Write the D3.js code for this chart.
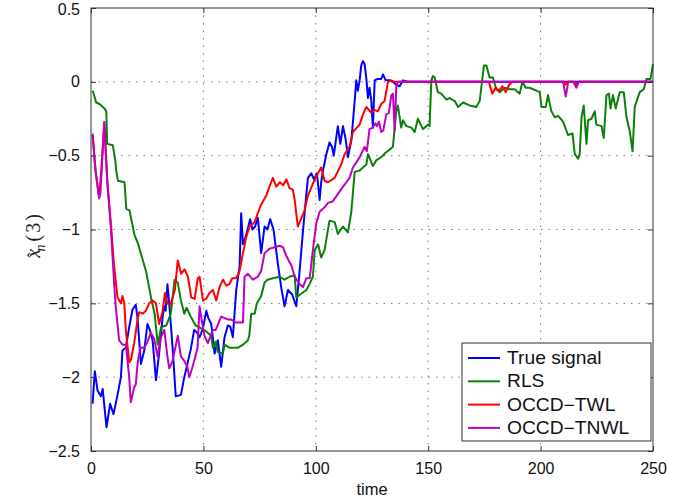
<!DOCTYPE html>
<html>
<head>
<meta charset="utf-8">
<script src="https://cdn.jsdelivr.net/npm/d3@7"></script>
<style>
  body { margin: 0; background: #fff; }
  #canvas { width: 684px; height: 503px; }
  text { font-family: "Liberation Sans", Arial, sans-serif; fill: #111; }
  .grid { stroke: #777; stroke-width: 1; stroke-dasharray: 1.5,6; }
  .frame { fill: none; stroke: #333; stroke-width: 1; }
  .series { fill: none; stroke-width: 2; stroke-linejoin: round; }
</style>
</head>
<body>
<div id="canvas" class="canvas"></div>
<script>
//tick labels
var xTicks = [0, 50, 100, 150, 200, 250];
var yTicks = [0.5, 0, -0.5, -1, -1.5, -2, -2.5];

//series names (legend order)
var seriesNames = ['True signal', 'RLS', 'OCCD\u2212TWL', 'OCCD\u2212TNWL'];

//True signal
var trueT = [0.7,1.7,2.9,4.4,5.2,6.9,8.5,10,11.8,13.3,14,15.5,17,18.5,19.9,20.7,22.2,23.7,25.1,26.2,27.4,28.9,30.3,31.8,32.6,33.2,34,34.8,36.3,37.7,40,41.5,42.9,44.4,45.9,47.2,48.3,49.8,51.3,52.2,53.5,55,56.4,57.9,59.4,60.9,62,63.1,64.6,66.1,66.8,67.6,68.8,70.8,71.8,73,74.2,75.7,77.2,78.5,79.7,81.2,83.1,84.6,86.1,87.6,89.5,91.3,92.8,94.3,95.8,96.5,98,99.2,100.5,101.7,102.4,103.2,104.7,106.1,107.2,108,109.8,110.9,112.1,113.3,114.3,115.8,117.3,118,118.7,119.5,120.2,121,121.7,122.5,123.2,123.9,124.7,125.4,126.2,127.5,129.1,129.9,131.1,133,134.3,135.8,137.3,138.8,141,250];
var trueV = [-2.18,-1.96,-2.09,-2.13,-2.08,-2.34,-2.18,-2.25,-2.12,-2.0,-1.82,-1.8,-1.66,-1.54,-1.51,-1.6,-1.91,-1.82,-1.64,-1.68,-1.75,-2.02,-1.84,-1.6,-1.52,-1.55,-1.37,-1.5,-1.8,-2.13,-2.12,-2.0,-1.91,-1.81,-1.68,-1.7,-1.73,-1.67,-1.55,-1.6,-1.64,-1.84,-1.75,-1.93,-1.73,-1.65,-1.66,-1.73,-1.41,-1.25,-0.89,-1.1,-1.05,-0.93,-1.0,-0.98,-0.92,-1.16,-0.98,-1.0,-0.93,-1.0,-1.23,-1.39,-1.52,-1.41,-1.44,-1.52,-1.28,-1.01,-0.76,-0.65,-0.62,-0.66,-0.62,-0.8,-0.68,-0.6,-0.49,-0.41,-0.44,-0.5,-0.3,-0.42,-0.3,-0.39,-0.51,-0.4,-0.13,0.01,-0.06,0.01,0.11,0.14,0.12,0.02,-0.11,-0.04,-0.13,-0.31,0.01,0.02,0.02,0.05,0.01,0.01,0,-0.02,-0.03,0.01,0,0];

//RLS
var rlsT = [0.8,2.3,3.8,6,6.8,7.2,9.7,10.8,11.2,12,14.9,15.7,17.1,19.4,20.8,22.5,24.6,26.8,28.3,29.7,31.2,33.5,35.5,37.2,38.6,40,41.5,42.5,44.4,46.5,49,51.3,53.5,54.2,55.5,56.4,58.7,59.4,61.5,63.9,65.5,67.6,69.8,70.4,71.3,72.8,73.8,75.7,77.2,78.5,80.9,83.9,86.1,88.3,90.6,91.3,93,95.8,97.2,98.7,99.5,101,102.4,103.9,106.1,108.4,109.8,112.1,114.3,115.8,117.3,119.5,122.5,123.2,125.4,127,129.1,131,132.8,134.3,135.1,135.8,136.5,138,138.8,140.3,142.5,144,145.4,147.7,149.9,150.6,151.4,152.1,152.9,154.3,155.8,158.1,159.5,161.8,163.3,165.5,168.4,171.4,172.9,174.8,175.9,177.3,178.8,180.3,181.8,184,186.2,188.5,190.7,191.9,193.4,195.1,198.1,199.6,200.4,202.3,203.3,204.8,206.3,207.8,210,212.2,214.2,215.2,216.7,217.4,218.2,219.2,220.4,221.1,222.6,224.1,224.8,227.1,228.1,229.3,230.4,231.1,232.2,233.4,235.2,237,238.2,239.6,240.9,241.9,244.1,245.9,247.1,248.9,250];
var rlsV = [-0.06,-0.14,-0.15,-0.18,-0.2,-0.42,-0.43,-0.53,-0.6,-0.67,-0.68,-0.86,-0.87,-1.04,-1.09,-1.18,-1.29,-1.47,-1.57,-1.78,-1.66,-1.65,-1.57,-1.34,-1.36,-1.48,-1.57,-1.53,-1.59,-1.65,-1.67,-1.69,-1.72,-1.8,-1.76,-1.83,-1.84,-1.78,-1.8,-1.8,-1.8,-1.78,-1.75,-1.72,-1.57,-1.57,-1.5,-1.45,-1.36,-1.34,-1.33,-1.32,-1.34,-1.32,-1.31,-1.46,-1.44,-1.41,-1.37,-1.32,-1.14,-1.1,-1.19,-1.14,-0.94,-0.95,-1.03,-0.98,-1.02,-0.88,-0.61,-0.6,-0.56,-0.49,-0.57,-0.53,-0.51,-0.48,-0.46,-0.44,-0.31,-0.2,-0.16,-0.31,-0.26,-0.3,-0.31,-0.34,-0.25,-0.32,-0.29,-0.3,0.01,0.04,0.03,-0.07,-0.08,-0.12,-0.11,-0.13,-0.17,-0.14,-0.16,-0.17,-0.13,0.11,0.11,0.03,0.03,-0.05,-0.07,-0.04,-0.05,-0.05,-0.08,0,-0.04,-0.04,-0.06,-0.07,-0.17,-0.17,-0.09,-0.2,-0.24,-0.23,-0.27,-0.36,-0.35,-0.49,-0.52,-0.49,-0.24,-0.16,-0.42,-0.26,-0.25,-0.2,-0.29,-0.3,-0.38,-0.09,-0.08,-0.18,-0.09,-0.18,-0.07,-0.07,-0.24,-0.33,-0.47,-0.17,-0.07,-0.05,0.02,0.02,0.12];

//OCCD-TWL
var twlT = [0.7,2,3.6,4.5,5.9,7.3,8.8,10.3,11.8,13.3,14,14.8,15.5,17,17.8,19.2,20.7,21.4,23,24.4,25.9,27.4,28.9,30.3,31.8,32.9,34,35.3,37.3,38.6,40.1,41.6,43.1,44.6,46.1,47.5,48.3,49.8,51.2,52.7,54.2,55.7,57.2,58.7,60.2,61.6,62.8,64.6,66.1,67.6,69.1,70.5,72.8,74.2,75.7,78,79.4,80.9,82.4,84,85.5,86.9,88.3,89.8,90.6,92,95,96.5,98.7,100.9,102.4,103.9,105.4,108.4,111.3,112.8,115,116.5,119.5,121,122.5,124.7,126,127.6,129.1,130.6,132.1,133.6,135,177,178.5,180,181.5,183,184.5,186,187.5,210.5,211,212,215,216,217,250];
var twlV = [-0.36,-0.6,-0.78,-0.62,-0.28,-0.68,-0.95,-1.25,-1.46,-1.5,-1.45,-1.5,-1.68,-1.9,-1.88,-1.77,-1.61,-1.56,-1.57,-1.55,-1.5,-1.48,-1.5,-1.64,-1.56,-1.43,-1.5,-1.51,-1.41,-1.21,-1.3,-1.27,-1.32,-1.46,-1.47,-1.33,-1.32,-1.48,-1.47,-1.43,-1.41,-1.48,-1.39,-1.34,-1.38,-1.37,-1.33,-1.33,-1.28,-1.16,-1.05,-0.98,-0.95,-0.89,-0.83,-0.77,-0.71,-0.65,-0.71,-0.68,-0.7,-0.66,-0.72,-0.73,-0.8,-0.98,-0.87,-0.77,-0.69,-0.62,-0.58,-0.67,-0.68,-0.65,-0.56,-0.49,-0.44,-0.34,-0.29,-0.22,-0.17,-0.21,-0.19,-0.2,-0.15,-0.13,0,0.01,0,0,-0.08,-0.04,-0.06,-0.03,-0.07,-0.02,0,0,-0.02,0,0,-0.02,0,0];

//OCCD-TNWL
var tnwlT = [0.7,2,3.6,4.2,5.9,7.3,8.8,10.3,11,12.5,14,15.5,17,17.7,19.2,19.9,20.7,21.9,23.7,25.1,26.6,28.1,29.6,31.1,32.6,34,34.8,36.3,38.6,40,41.5,42.9,43.7,44.8,45.9,47.4,48.3,49.3,50.5,52,54.2,55.5,57.9,59.5,60.9,62.4,64.6,67.6,68.3,69.8,72,74.2,75.7,77.2,79.4,81.7,83.9,85.4,86.9,88.3,89.1,90.6,92.8,94.3,95.8,97.3,98.7,100.2,101.7,103.9,105.4,107.5,109.8,112.1,113.6,115,116.5,118.7,119.5,121.7,122.7,123.9,125.4,126.5,127.2,128.1,129.1,130,131.4,132.5,133.6,134.3,135.1,135.8,136.5,210,211.2,212.3,214.5,215.9,217,250];
var tnwlV = [-0.35,-0.6,-0.79,-0.75,-0.27,-0.69,-0.98,-1.37,-1.52,-1.75,-1.78,-1.78,-2.0,-2.17,-2.07,-2.05,-1.91,-1.8,-1.8,-1.76,-1.7,-1.74,-1.86,-1.73,-1.68,-1.86,-1.94,-1.89,-1.72,-1.86,-1.89,-1.93,-2.0,-1.95,-1.89,-1.8,-1.52,-1.62,-1.72,-1.77,-1.68,-1.68,-1.59,-1.6,-1.61,-1.61,-1.63,-1.63,-1.32,-1.3,-1.34,-1.32,-1.28,-1.16,-1.13,-1.12,-1.11,-1.12,-1.18,-1.22,-1.24,-1.32,-1.37,-1.39,-1.33,-1.33,-1.14,-0.96,-0.88,-0.85,-0.82,-0.81,-0.76,-0.71,-0.68,-0.65,-0.58,-0.53,-0.51,-0.44,-0.47,-0.32,-0.31,-0.28,-0.3,-0.27,-0.34,-0.33,-0.22,-0.21,-0.09,-0.08,-0.33,-0.03,0,0,-0.1,0,0,-0.04,0,0];

var colors = ['#0000ff', '#0a800a', '#ff0000', '#bf00bf'];

var margin = {t:8, r:31, b:52, l:91},
    width = 684 - margin.l - margin.r,
    height = 503 - margin.t - margin.b;

var svg = d3.select('.canvas')
    .append('svg')
    .attr('width', 684)
    .attr('height', 503);

var canvas = svg.append('g')
    .attr('transform', 'translate(' + margin.l + ',' + margin.t + ')');

var x = d3.scaleLinear().domain([0, 250]).range([0, width]);
var y = d3.scaleLinear().domain([-2.5, 0.5]).range([height, 0]);

//dotted grid
xTicks.forEach(function(t){
    if (t === 0 || t === 250) return;
    canvas.append('line').attr('class', 'grid')
        .attr('x1', x(t)).attr('x2', x(t)).attr('y1', 0).attr('y2', height);
});
yTicks.forEach(function(t){
    if (t === 0.5 || t === -2.5) return;
    canvas.append('line').attr('class', 'grid')
        .attr('x1', 0).attr('x2', width).attr('y1', y(t)).attr('y2', y(t));
});

//lines
var series = [[trueT, trueV], [rlsT, rlsV], [twlT, twlV], [tnwlT, tnwlV]];
var line = d3.line()
    .x(function(d){ return x(d[0]); })
    .y(function(d){ return y(d[1]); });

series.forEach(function(s, i){
    var pts = s[0].map(function(t, j){ return [t, s[1][j]]; });
    canvas.append('path')
        .attr('class', 'series')
        .attr('d', line(pts))
        .style('stroke', colors[i]);
});

//axes with inward ticks, matlab style
var fmt = function(d){ return String(d).replace('-', '\u2212'); };
canvas.append('g')
    .attr('transform', 'translate(0,' + height + ')')
    .call(d3.axisBottom(x).tickValues(xTicks).tickSizeInner(-5).tickSizeOuter(0).tickPadding(12).tickFormat(fmt));
canvas.append('g')
    .call(d3.axisTop(x).tickValues(xTicks).tickSizeInner(-5).tickSizeOuter(0).tickFormat(''));
var yAxis = canvas.append('g')
    .call(d3.axisLeft(y).tickValues(yTicks).tickSizeInner(-5).tickSizeOuter(0).tickPadding(11).tickFormat(fmt));
canvas.append('g')
    .attr('transform', 'translate(' + width + ',0)')
    .call(d3.axisRight(y).tickValues(yTicks).tickSizeInner(-5).tickSizeOuter(0).tickFormat(''));

canvas.selectAll('.tick line').style('stroke', '#333');
canvas.selectAll('.domain').remove();
canvas.selectAll('.tick text')
    .style('font-family', '"Liberation Sans", Arial, sans-serif')
    .style('font-size', '16px')
    .style('fill', '#111');
//keep the top label inside the picture
yAxis.selectAll('.tick text').filter(function(d){ return d === 0.5; }).attr('dy', '0.42em');

canvas.append('rect')
    .attr('class', 'frame')
    .attr('width', width)
    .attr('height', height);

//axis labels
svg.append('text')
    .attr('x', margin.l + width / 2)
    .attr('y', 495)
    .attr('text-anchor', 'middle')
    .style('font-size', '16.5px')
    .text('time');

//y label: x-hat, subscript n, (3)
var ylab = svg.append('text')
    .attr('transform', 'translate(40,235) rotate(-90)')
    .attr('text-anchor', 'middle')
    .style('font-family', '"Liberation Serif", "DejaVu Serif", serif')
    .style('font-size', '20px')
    .style('fill', '#222');
ylab.append('tspan').style('font-style', 'italic').text('x');
ylab.append('tspan').attr('dx', -9).attr('dy', -1).style('font-size', '16px').text('\u02c6');
ylab.append('tspan').attr('dx', 1).attr('dy', 6).style('font-style', 'italic').style('font-size', '14px').text('n');
ylab.append('tspan').attr('dx', 3).attr('dy', -5).style('letter-spacing', '2px').text('(3)');

//legend
var lg = svg.append('g').attr('transform', 'translate(462,343)');
lg.append('rect')
    .attr('width', 189)
    .attr('height', 98)
    .style('fill', '#fff')
    .style('stroke', '#333');
seriesNames.forEach(function(name, i){
    var ly = 15 + i * 23.3;
    lg.append('line')
        .attr('x1', 6).attr('x2', 38)
        .attr('y1', ly).attr('y2', ly)
        .style('stroke', colors[i])
        .style('stroke-width', 2);
    lg.append('text')
        .attr('transform', 'translate(45,' + (ly + 6) + ') scale(1.1,1)')
        .style('font-size', '17.5px')
        .text(name);
});
</script>
</body>
</html>
